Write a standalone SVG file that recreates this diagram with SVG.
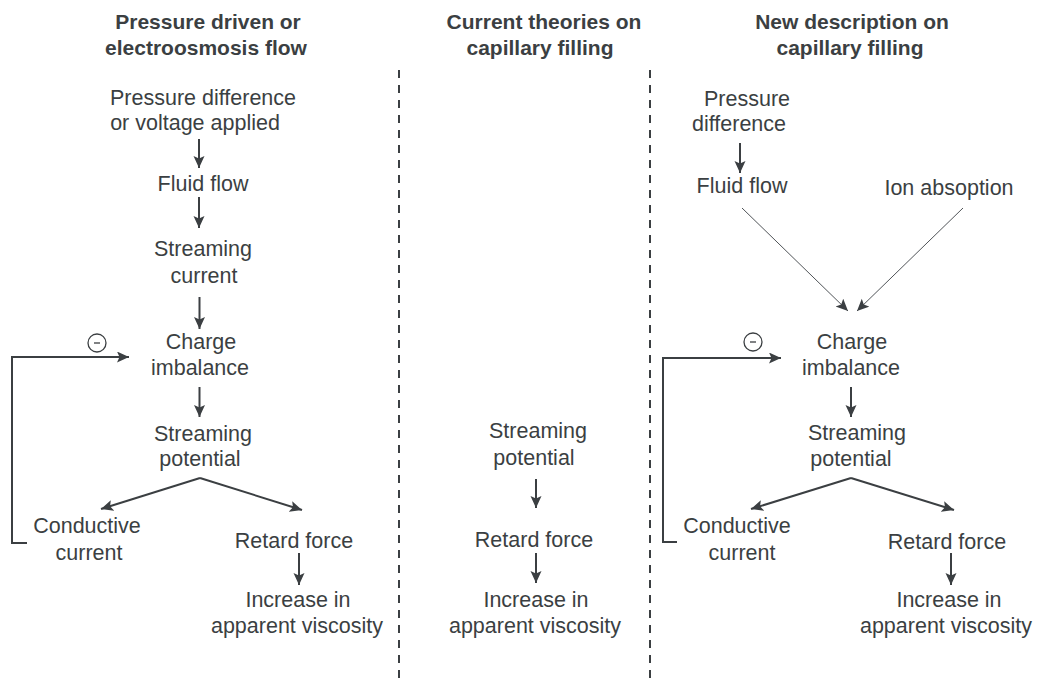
<svg xmlns="http://www.w3.org/2000/svg" width="1040" height="680" viewBox="0 0 1040 680">
<style>
text{font-family:"Liberation Sans",Arial,sans-serif;font-size:21.5px;fill:#3b3f42;text-anchor:middle}
.t{font-weight:bold;font-size:21px}
.c{fill:none;stroke:#3b3f42;stroke-width:2}
.thin{fill:none;stroke:#505458;stroke-width:1}
.dash{fill:none;stroke:#3b3f42;stroke-width:2;stroke-dasharray:8 7}
.minus{fill:none;stroke:#3b3f42;stroke-width:1.3}
</style>
<defs>
<marker id="ah" markerUnits="userSpaceOnUse" markerWidth="14" markerHeight="12" refX="12" refY="5.5" orient="auto">
<path d="M0,0 L12,5.5 L0,11 L2.5,5.5 z" fill="#3b3f42"/>
</marker>
</defs>
<rect width="1040" height="680" fill="#fff"/>

<g id="dividers">
<line class="dash" x1="399" y1="70" x2="399" y2="680"/>
<line class="dash" x1="650" y1="70" x2="650" y2="680"/>
</g>

<g id="title1"><text class="t" x="208" y="29">Pressure driven or</text><text class="t" x="206" y="55">electroosmosis flow</text></g>
<g id="title2"><text class="t" x="544" y="29">Current theories on</text><text class="t" x="540" y="55">capillary filling</text></g>
<g id="title3"><text class="t" x="852" y="29">New description on</text><text class="t" x="850" y="55">capillary filling</text></g>

<g id="c1-pressure"><text x="203" y="105">Pressure difference</text><text x="195" y="130">or voltage applied</text></g>
<g id="c1-fluid"><text x="203" y="191">Fluid flow</text></g>
<g id="c1-streamcur"><text x="203" y="256">Streaming</text><text x="204" y="283">current</text></g>
<g id="c1-charge"><text x="201" y="349">Charge</text><text x="200" y="375">imbalance</text></g>
<g id="c1-streampot"><text x="203" y="441">Streaming</text><text x="200" y="466">potential</text></g>
<g id="c1-conductive"><text x="87" y="533">Conductive</text><text x="89" y="560">current</text></g>
<g id="c1-retard"><text x="294" y="548">Retard force</text></g>
<g id="c1-viscosity"><text x="298" y="607">Increase in</text><text x="297" y="633">apparent viscosity</text></g>
<g id="c1-minus"><circle class="minus" cx="97" cy="343" r="9"/><line class="minus" x1="94" y1="343" x2="100" y2="343"/></g>

<g id="c2-streampot"><text x="538" y="438">Streaming</text><text x="534" y="465">potential</text></g>
<g id="c2-retard"><text x="534" y="547">Retard force</text></g>
<g id="c2-viscosity"><text x="536" y="607">Increase in</text><text x="535" y="633">apparent viscosity</text></g>

<g id="c3-pressure"><text x="747" y="106">Pressure</text><text x="739" y="131">difference</text></g>
<g id="c3-fluid"><text x="742" y="193">Fluid flow</text></g>
<g id="c3-ion"><text x="949" y="195">Ion absoption</text></g>
<g id="c3-charge"><text x="852" y="349">Charge</text><text x="851" y="375">imbalance</text></g>
<g id="c3-streampot"><text x="857" y="440">Streaming</text><text x="851" y="466">potential</text></g>
<g id="c3-conductive"><text x="737" y="533">Conductive</text><text x="742" y="560">current</text></g>
<g id="c3-retard"><text x="947" y="549">Retard force</text></g>
<g id="c3-viscosity"><text x="949" y="607">Increase in</text><text x="946" y="633">apparent viscosity</text></g>
<g id="c3-minus"><circle class="minus" cx="753" cy="342" r="9"/><line class="minus" x1="750" y1="342" x2="756" y2="342"/></g>

<g id="connectors">
<line class="c" x1="199" y1="139" x2="199" y2="168" marker-end="url(#ah)"/>
<line class="c" x1="199" y1="197" x2="199" y2="228" marker-end="url(#ah)"/>
<line class="c" x1="199.5" y1="297" x2="199.5" y2="329" marker-end="url(#ah)"/>
<line class="c" x1="199.5" y1="387" x2="199.5" y2="417" marker-end="url(#ah)"/>
<line class="c" x1="200" y1="478" x2="101" y2="509" marker-end="url(#ah)"/>
<line class="c" x1="200" y1="478" x2="302" y2="510" marker-end="url(#ah)"/>
<line class="c" x1="299" y1="553" x2="299" y2="585" marker-end="url(#ah)"/>
<polyline class="c" points="27,543 12,543 12,357 129,357" marker-end="url(#ah)"/>

<line class="c" x1="536" y1="479" x2="536" y2="508" marker-end="url(#ah)"/>
<line class="c" x1="536" y1="553" x2="536" y2="583" marker-end="url(#ah)"/>

<line class="c" x1="740" y1="143" x2="740" y2="173" marker-end="url(#ah)"/>
<line class="thin" x1="742" y1="208" x2="848" y2="311" marker-end="url(#ah)"/>
<line class="thin" x1="963" y1="208" x2="857" y2="311" marker-end="url(#ah)"/>
<line class="c" x1="851" y1="387" x2="851" y2="417" marker-end="url(#ah)"/>
<line class="c" x1="851" y1="478" x2="751" y2="509" marker-end="url(#ah)"/>
<line class="c" x1="851" y1="478" x2="954" y2="510" marker-end="url(#ah)"/>
<line class="c" x1="951" y1="553" x2="951" y2="585" marker-end="url(#ah)"/>
<polyline class="c" points="677,542 663,542 663,358 781,358" marker-end="url(#ah)"/>
</g>
</svg>
